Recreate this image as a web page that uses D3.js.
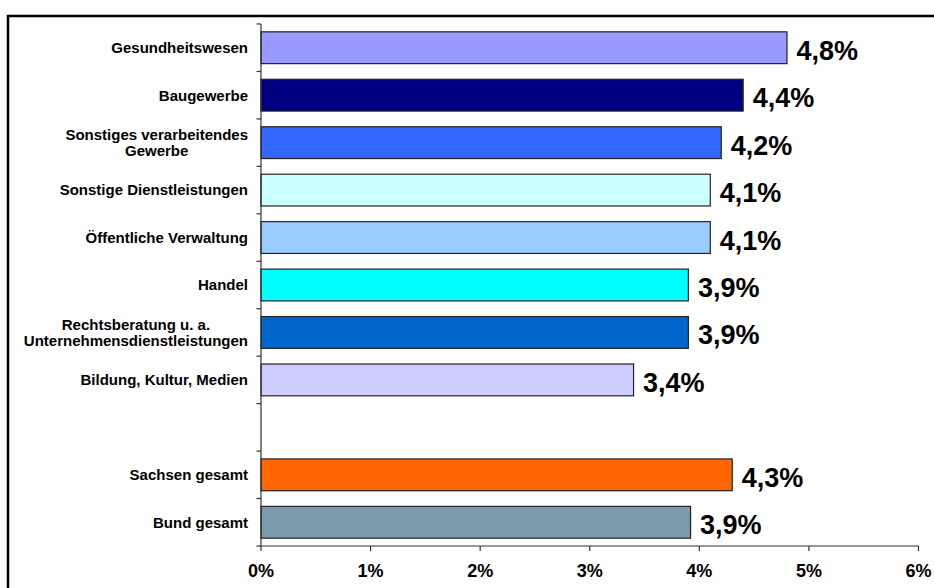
<!DOCTYPE html>
<html><head><meta charset="utf-8">
<script src="https://cdn.jsdelivr.net/npm/d3@7"></script>
<style>body{margin:0;background:#fff}svg{display:block}text{font-family:"Liberation Sans",Arial,sans-serif;font-weight:bold;fill:#000}</style>
</head><body><svg id="c" width="934" height="588"></svg>
<script>
const categories = [
  ["Gesundheitswesen"],
  ["Baugewerbe"],
  ["Sonstiges verarbeitendes", "Gewerbe"],
  ["Sonstige Dienstleistungen"],
  ["Öffentliche Verwaltung"],
  ["Handel"],
  ["Rechtsberatung u. a.", "Unternehmensdienstleistungen"],
  ["Bildung, Kultur, Medien"],
  [],
  ["Sachsen gesamt"],
  ["Bund gesamt"]
];
const values = [4.8, 4.4, 4.2, 4.1, 4.1, 3.9, 3.9, 3.4, null, 4.3, 3.92];
const valueLabels = ["4,8%", "4,4%", "4,2%", "4,1%", "4,1%", "3,9%", "3,9%", "3,4%", "", "4,3%", "3,9%"];
const colors = ["#9999ff", "#000080", "#3366ff", "#ccffff", "#99ccff", "#00ffff", "#0066cc", "#ccccff", "none", "#ff6600", "#7b9aab"];
const xTicks = [0, 1, 2, 3, 4, 5, 6];
const xTickLabels = ["0%", "1%", "2%", "3%", "4%", "5%", "6%"];

const svg = d3.select("#c");
const idx = d3.range(categories.length);
const x = d3.scaleLinear().domain([0, 6]).range([261, 918.5]);
const y = d3.scaleBand().domain(idx).range([24, 546]).paddingInner(0.33).paddingOuter(0.165);
const step = y.step();
const bandTop = i => y(i) - step * 0.165;

// frame
svg.append("path").attr("d", "M8,588 V16 H934").attr("fill", "none").attr("stroke", "#000").attr("stroke-width", 2.5);

// bars
const rows = idx.filter(i => values[i] !== null);
svg.selectAll("rect.bar").data(rows).join("rect").attr("class", "bar")
  .attr("x", x(0)).attr("y", i => y(i)).attr("height", y.bandwidth())
  .attr("width", i => x(values[i]) - x(0))
  .attr("fill", i => colors[i]).attr("stroke", "#222").attr("stroke-width", 1.2);

// value labels
svg.selectAll("text.val").data(rows).join("text").attr("class", "val")
  .attr("x", i => x(values[i]) + 9.5).attr("y", i => y(i) + y.bandwidth() / 2 + 12)
  .attr("font-size", 27).text(i => valueLabels[i]);

// y axis
const ax = svg.append("g").attr("stroke", "#333").attr("stroke-width", 1.2);
ax.append("line").attr("x1", x(0)).attr("x2", x(0)).attr("y1", 24).attr("y2", 546);
const yTickPos = idx.map(bandTop).concat([546]);
ax.selectAll("line.yt").data(yTickPos).join("line").attr("class", "yt")
  .attr("x1", x(0) - 4.5).attr("x2", x(0)).attr("y1", d => d).attr("y2", d => d);
// x axis
ax.append("line").attr("x1", x(0)).attr("x2", x(6)).attr("y1", 546).attr("y2", 546);
ax.selectAll("line.xt").data(xTicks).join("line").attr("class", "xt")
  .attr("x1", d => x(d)).attr("x2", d => x(d)).attr("y1", 546).attr("y2", 551);

svg.selectAll("text.xl").data(xTicks).join("text").attr("class", "xl")
  .attr("x", d => x(d)).attr("y", 577).attr("text-anchor", "middle")
  .attr("font-size", 18).text((d, i) => xTickLabels[i]);

// category labels
const lh = 16.5;
idx.forEach(i => {
  const lines = categories[i];
  if (!lines.length) return;
  const g = svg.append("g");
  const cy = y(i) + y.bandwidth() / 2;
  const first = cy - (lines.length - 1) * lh / 2 + 5.4;
  const ts = lines.map((t, k) => g.append("text").attr("font-size", 15).attr("y", first + k * lh).attr("text-anchor", "middle").text(t));
  const w = d3.max(ts, t => t.node().getComputedTextLength());
  ts.forEach(t => t.attr("x", 248 - w / 2));
});
</script></body></html>
